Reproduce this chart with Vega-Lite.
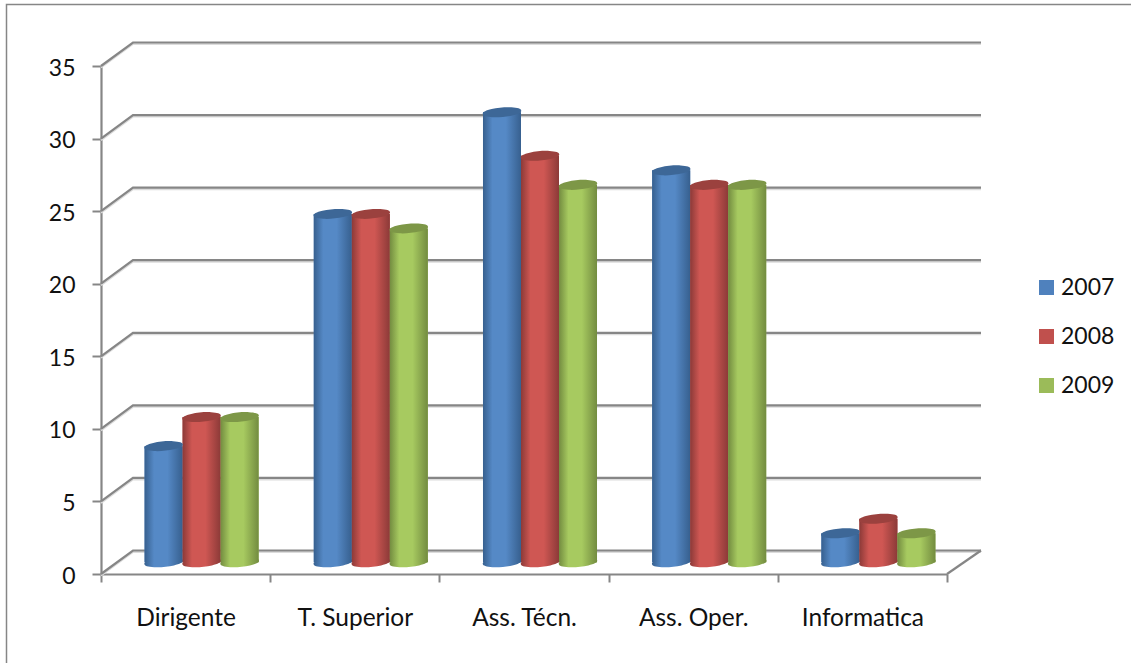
{
  "$schema": "https://vega.github.io/schema/vega-lite/v6.json",
  "width": 846,
  "height": 508,
  "padding": {"left": 101, "top": 66, "right": 184, "bottom": 89},
  "autosize": "none",
  "background": "#ffffff",
  "config": {"view": {"stroke": null}, "font": "Lato"},
  "datasets": {
    "staff": [
      {"cat": "Dirigente", "year": "2007", "n": 8},
      {"cat": "Dirigente", "year": "2008", "n": 10},
      {"cat": "Dirigente", "year": "2009", "n": 10},
      {"cat": "T. Superior", "year": "2007", "n": 24},
      {"cat": "T. Superior", "year": "2008", "n": 24},
      {"cat": "T. Superior", "year": "2009", "n": 23},
      {"cat": "Ass. Técn.", "year": "2007", "n": 31},
      {"cat": "Ass. Técn.", "year": "2008", "n": 28},
      {"cat": "Ass. Técn.", "year": "2009", "n": 26},
      {"cat": "Ass. Oper.", "year": "2007", "n": 27},
      {"cat": "Ass. Oper.", "year": "2008", "n": 26},
      {"cat": "Ass. Oper.", "year": "2009", "n": 26},
      {"cat": "Informatica", "year": "2007", "n": 2},
      {"cat": "Informatica", "year": "2008", "n": 3},
      {"cat": "Informatica", "year": "2009", "n": 2}
    ],
    "levels": [
      {"level": 0}, {"level": 5}, {"level": 10}, {"level": 15},
      {"level": 20}, {"level": 25}, {"level": 30}, {"level": 35}
    ],
    "floor": [{"level": 0}]
  },
  "layer": [
    {
      "description": "Chart frame: left and top edges, drawn from the top of the value axis",
      "data": {"name": "floor"},
      "mark": {"type": "point", "shape": "M-94.5,597L-94.5,-61.5L1030,-61.5", "filled": false, "stroke": "#868686", "strokeWidth": 1.5, "size": 4, "opacity": 1},
      "encoding": {
        "x": {"datum": "Dirigente", "type": "nominal", "bandPosition": 0},
        "y": {"datum": 35, "type": "quantitative"}
      }
    },
    {
      "description": "Soft shadow under the wall lines",
      "data": {"name": "levels"},
      "mark": {"type": "point", "shape": "M0,1.5L32,-22L880,-22", "filled": false, "stroke": "#dcdcdc", "strokeWidth": 2, "size": 4, "opacity": 1},
      "encoding": {
        "x": {"datum": "Dirigente", "type": "nominal", "bandPosition": 0},
        "y": {"field": "level", "type": "quantitative"}
      }
    },
    {
      "description": "Side wall and back wall line for every value level",
      "data": {"name": "levels"},
      "mark": {"type": "point", "shape": "M0,0L32,-23.5L880,-23.5", "filled": false, "stroke": "#868686", "strokeWidth": 2.2, "size": 4, "opacity": 1},
      "encoding": {
        "x": {"datum": "Dirigente", "type": "nominal", "bandPosition": 0},
        "y": {"field": "level", "type": "quantitative"}
      }
    },
    {
      "description": "Floor edge on the right",
      "data": {"name": "floor"},
      "mark": {"type": "point", "shape": "M0,0L34,-23.5", "filled": false, "stroke": "#868686", "strokeWidth": 2.2, "size": 4, "opacity": 1},
      "encoding": {
        "x": {"datum": "Informatica", "type": "nominal", "bandPosition": 1},
        "y": {"field": "level", "type": "quantitative"}
      }
    },
    {
      "description": "Flat cylinder bodies, source of the axes and the year legend",
      "data": {"name": "staff"},
      "mark": {"type": "bar", "yOffset": -11.75, "y2Offset": -11.75},
      "encoding": {
        "x": {
          "field": "cat", "type": "nominal", "sort": null,
          "scale": {"domain": ["Dirigente", "T. Superior", "Ass. Técn.", "Ass. Oper.", "Informatica"], "paddingInner": 0, "paddingOuter": 0},
          "axis": {
            "title": null, "labelAngle": 0, "labelAlign": "center", "labelFontSize": 24.5, "labelColor": "#111111", "labelPadding": 36,
            "tickBand": "extent", "tickExtra": true, "tickSize": 8, "tickWidth": 2, "tickColor": "#868686",
            "domainColor": "#868686", "domainWidth": 2.2, "grid": false
          }
        },
        "xOffset": {"field": "year", "type": "nominal", "scale": {"range": [16, 185.2], "paddingInner": 0, "paddingOuter": 0.726}},
        "y": {
          "field": "n", "type": "quantitative",
          "scale": {"domain": [0, 35], "nice": false},
          "axis": {
            "title": null, "values": [0, 5, 10, 15, 20, 25, 30, 35], "grid": false, "labelFontSize": 23, "labelColor": "#111111",
            "labelPadding": 17, "labelOffset": 2, "tickSize": 9, "tickWidth": 2, "tickColor": "#868686", "domainColor": "#868686", "domainWidth": 2.2
          }
        },
        "color": {
          "field": "year", "type": "nominal",
          "scale": {"domain": ["2007", "2008", "2009"], "range": ["#4F81BD", "#C0504D", "#9BBB59"]},
          "legend": {
            "title": null, "orient": "none", "legendX": 934, "legendY": 210, "symbolType": "square", "symbolSize": 225,
            "symbolStrokeWidth": 0, "labelFontSize": 23, "labelColor": "#111111", "rowPadding": 25, "labelOffset": 3, "padding": 0
          }
        }
      }
    },
    {
      "description": "Rounded cylinder feet",
      "data": {"name": "staff"},
      "mark": {"type": "point", "shape": "M-19.2,1.7A19.3,4.5,-5,1,1,19.2,-1.7A19.3,4.5,-5,1,1,-19.2,1.7Z", "filled": true, "size": 4, "opacity": 1, "yOffset": -11.75},
      "encoding": {
        "x": {"field": "cat", "type": "nominal", "sort": null},
        "xOffset": {"field": "year", "type": "nominal"},
        "y": {"datum": 0, "type": "quantitative"},
        "fill": {
          "condition": [
            {"test": "datum.year === '2007'", "value": {"gradient": "linear", "x1": 0, "x2": 1, "y1": 0, "y2": 0, "stops": [{"offset": 0, "color": "#37608f"}, {"offset": 0.25, "color": "#5589c6"}, {"offset": 0.6, "color": "#5589c6"}, {"offset": 1, "color": "#37608f"}]}},
            {"test": "datum.year === '2008'", "value": {"gradient": "linear", "x1": 0, "x2": 1, "y1": 0, "y2": 0, "stops": [{"offset": 0, "color": "#8c3a38"}, {"offset": 0.25, "color": "#cf5753"}, {"offset": 0.6, "color": "#cf5753"}, {"offset": 1, "color": "#8c3a38"}]}}
          ],
          "value": {"gradient": "linear", "x1": 0, "x2": 1, "y1": 0, "y2": 0, "stops": [{"offset": 0, "color": "#738c40"}, {"offset": 0.25, "color": "#a7ca60"}, {"offset": 0.6, "color": "#a7ca60"}, {"offset": 1, "color": "#738c40"}]}
        }
      }
    },
    {
      "description": "Shaded cylinder bodies",
      "data": {"name": "staff"},
      "mark": {"type": "bar", "yOffset": -11.75, "y2Offset": -11.75},
      "encoding": {
        "x": {"field": "cat", "type": "nominal", "sort": null},
        "xOffset": {"field": "year", "type": "nominal"},
        "y": {"field": "n", "type": "quantitative"},
        "fill": {
          "condition": [
            {"test": "datum.year === '2007'", "value": {"gradient": "linear", "x1": 0, "x2": 1, "y1": 0, "y2": 0, "stops": [{"offset": 0, "color": "#37608f"}, {"offset": 0.25, "color": "#5589c6"}, {"offset": 0.6, "color": "#5589c6"}, {"offset": 1, "color": "#37608f"}]}},
            {"test": "datum.year === '2008'", "value": {"gradient": "linear", "x1": 0, "x2": 1, "y1": 0, "y2": 0, "stops": [{"offset": 0, "color": "#8c3a38"}, {"offset": 0.25, "color": "#cf5753"}, {"offset": 0.6, "color": "#cf5753"}, {"offset": 1, "color": "#8c3a38"}]}}
          ],
          "value": {"gradient": "linear", "x1": 0, "x2": 1, "y1": 0, "y2": 0, "stops": [{"offset": 0, "color": "#738c40"}, {"offset": 0.25, "color": "#a7ca60"}, {"offset": 0.6, "color": "#a7ca60"}, {"offset": 1, "color": "#738c40"}]}
        }
      }
    },
    {
      "description": "Darker cylinder caps",
      "data": {"name": "staff"},
      "mark": {"type": "point", "shape": "M-19.2,1.7A19.3,4.5,-5,1,1,19.2,-1.7A19.3,4.5,-5,1,1,-19.2,1.7Z", "filled": true, "size": 4, "opacity": 1, "yOffset": -11.75},
      "encoding": {
        "x": {"field": "cat", "type": "nominal", "sort": null},
        "xOffset": {"field": "year", "type": "nominal"},
        "y": {"field": "n", "type": "quantitative"},
        "fill": {
          "condition": [
            {"test": "datum.year === '2007'", "value": "#3d6797"},
            {"test": "datum.year === '2008'", "value": "#9b413e"}
          ],
          "value": "#7d9747"
        }
      }
    }
  ]
}
